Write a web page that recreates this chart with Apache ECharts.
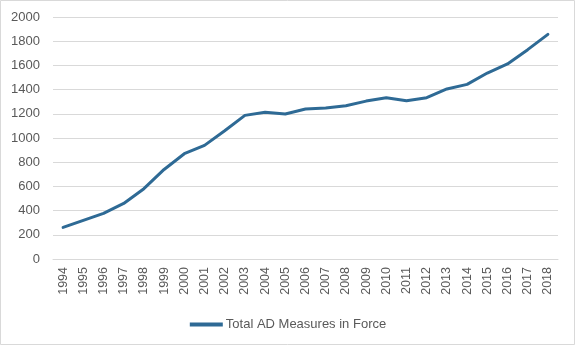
<!DOCTYPE html>
<html>
<head>
<meta charset="utf-8">
<script src="https://cdn.jsdelivr.net/npm/echarts@6/dist/echarts.min.js"></script>
<style>
html,body{margin:0;padding:0;background:#fff;}
#chart{width:576px;height:346px;}
</style>
</head>
<body>
<div id="chart"></div>
<script>
var years = ['1994','1995','1996','1997','1998','1999','2000','2001','2002','2003','2004','2005','2006','2007','2008','2009','2010','2011','2012','2013','2014','2015','2016','2017','2018'];
var totalAD = [261, 319, 377, 459, 581, 740, 870, 939, 1060, 1187, 1212, 1198, 1240, 1248, 1267, 1305, 1333, 1308, 1333, 1405, 1443, 1537, 1612, 1730, 1856];
var seriesName = 'Total AD Measures in Force';

var chart = echarts.init(document.getElementById('chart'), null, {renderer: 'canvas'});
chart.setOption({
  animation: false,
  backgroundColor: '#ffffff',
  textStyle: {fontFamily: 'Liberation Sans, Arial, sans-serif'},
  graphic: [{
    type: 'rect',
    shape: {x: 0.5, y: 0.5, width: 574, height: 344},
    style: {fill: 'none', stroke: '#d9d9d9', lineWidth: 1},
    silent: true
  }],
  grid: {left: 53, right: 18, top: 17, bottom: 87, containLabel: false},
  legend: {
    left: 'center',
    top: 313,
    icon: 'rect',
    itemWidth: 33,
    itemHeight: 4,
    itemGap: 10,
    textStyle: {color: '#595959', fontSize: 13, padding: [0, 0, 0, -2]},
    data: [seriesName]
  },
  xAxis: {
    type: 'category',
    data: years,
    boundaryGap: true,
    axisLine: {show: true, lineStyle: {color: '#d9d9d9', width: 1}},
    axisTick: {show: false},
    axisLabel: {rotate: 90, color: '#595959', fontSize: 12.5, margin: 8, interval: 0}
  },
  yAxis: {
    type: 'value',
    min: 0,
    max: 2000,
    interval: 200,
    axisLine: {show: false},
    axisTick: {show: false},
    splitLine: {lineStyle: {color: '#d9d9d9', width: 1}},
    axisLabel: {color: '#595959', fontSize: 13, margin: 13, formatter: function (v) { return String(v); }}
  },
  series: [{
    name: seriesName,
    type: 'line',
    data: totalAD,
    showSymbol: false,
    symbol: 'none',
    lineStyle: {color: '#2E6A95', width: 3, cap: 'round', join: 'round'},
    itemStyle: {color: '#2E6A95'}
  }]
});
</script>
</body>
</html>
